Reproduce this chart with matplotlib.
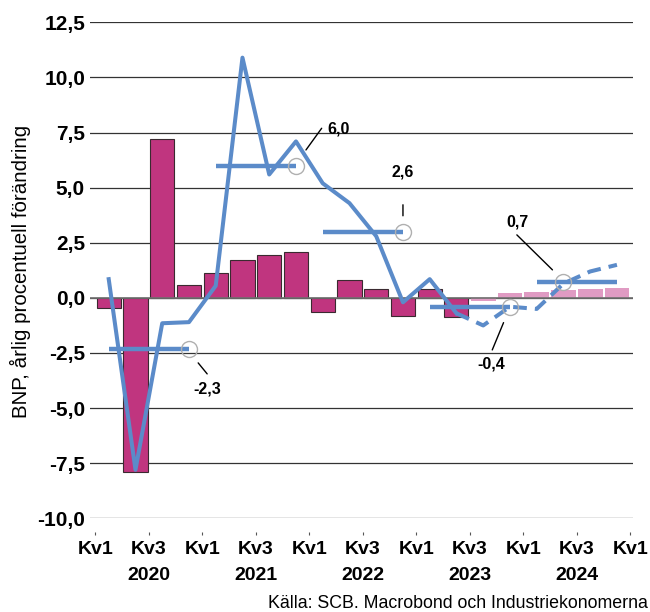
import numpy as np
import matplotlib
matplotlib.use('Agg')
import matplotlib.pyplot as plt
import matplotlib.transforms as mtransforms

plt.rcParams['font.family'] = ['Liberation Sans', 'DejaVu Sans']

# data
#=============================
# quarterly change, bars (2020 Kv1 .. 2023 Kv2 outcome, then forecast)
bar_outcome = [-0.45, -7.9, 7.2, 0.6, 1.15, 1.7, 1.95, 2.1, -0.65, 0.8, 0.4, -0.8, 0.4, -0.85]
bar_forecast = [-0.12, 0.2, 0.25, 0.35, 0.4, 0.45]

# annual change, line
line_outcome = [0.85, -7.8, -1.15, -1.1, 0.55, 10.9, 5.6, 7.1, 5.2, 4.3, 2.8, -0.2, 0.85, -0.7]
line_forecast = [-0.7, -1.25, -0.4, -0.5, 0.65, 1.2, 1.5]

# yearly averages
years = ['2020', '2021', '2022', '2023', '2024']
year_avg = [-2.3, 6.0, 3.0, -0.4, 0.7]
year_labels = ['-2,3', '6,0', '2,6', '-0,4', '0,7']
circle_q = [3, 7, 11, 15, 17]

xtick_labels = ['Kv1', 'Kv3'] * 5 + ['Kv1']
yticks = np.arange(-10, 12.51, 2.5)

# styling
#=============================
c_bar = '#c0357f'
c_bar_fc = '#e09bc3'
c_line = '#5b8bc9'

# label offsets in pixels from the circle, y down:
# (text centre, leader start, leader end)
label_off = [
    ((18.7, 40.3), (9.2, 14.3), (18.2, 25.3)),
    ((43, -37), (10, -15.7), (25.7, -37.4)),
    ((0, -60.2), (0, -27), (0, -16)),
    ((-18.4, 56.9), (-6.4, 15.9), (-17.7, 43.2)),
    ((-45.8, -60.6), (-11, -12.6), (-46.6, -47.6)),
]
px = 0.72  # pixels -> points at 100 dpi

fig = plt.figure(figsize=(6.5, 6.12), dpi=100)
ax = fig.add_axes([90 / 650, 1 - 518.3 / 612, 543 / 650, (518.3 - 22.4) / 612])

# spines first (moving a spine resets the ticks)
for s in ['top', 'right', 'left']:
    ax.spines[s].set_visible(False)
ax.spines['bottom'].set_position(('outward', 9.9))
ax.spines['bottom'].set_visible(False)

n_out = len(bar_outcome)
x_out = np.arange(n_out) + 0.5
x_fc = np.arange(n_out, n_out + len(bar_forecast)) + 0.5

ax.bar(x_out, bar_outcome, width=0.9, color=c_bar, edgecolor='#3a2a30', linewidth=0.8, zorder=2)
ax.bar(x_fc, bar_forecast, width=0.92, color=c_bar_fc, edgecolor='none', zorder=2)
ax.axhline(0, color='#707070', lw=1.2, zorder=2.5)

# annual change line
ax.plot(x_out, line_outcome, color=c_line, lw=2.9, zorder=3)
x_lf = np.arange(n_out - 1, n_out - 1 + len(line_forecast)) + 0.5
ax.plot(x_lf, line_forecast, color=c_line, lw=2.9, dashes=(3.4, 2), zorder=3)

# yearly average segments, circles and labels
for i, (v, lab, cq) in enumerate(zip(year_avg, year_labels, circle_q)):
    xs = [4 * i + 0.5, 4 * i + 3.5]
    ax.plot(xs, [v, v], color=c_line, lw=3.2, solid_capstyle='butt', zorder=4)
    ax.plot(cq + 0.5, v, marker='o', ms=11.5, mfc='none', mec='#b0b0b0', mew=1.0, zorder=5)
    t_off, l0, l1 = label_off[i]
    ax.annotate(lab, xy=(cq + 0.5, v), xytext=(t_off[0] * px, -t_off[1] * px),
                textcoords='offset points', ha='center', va='center',
                fontsize=11.5, fontweight='bold', zorder=6)
    # leader line
    p0 = mtransforms.offset_copy(ax.transData, fig=fig, x=l0[0] * px, y=-l0[1] * px, units='points')
    p1 = mtransforms.offset_copy(ax.transData, fig=fig, x=l1[0] * px, y=-l1[1] * px, units='points')
    ax.annotate('', xy=(cq + 0.5, v), xycoords=p1, xytext=(cq + 0.5, v), textcoords=p0,
                arrowprops=dict(arrowstyle='-', color='black', lw=1.0, shrinkA=0, shrinkB=0),
                zorder=6)

# axes setup
ax.set_xlim(-0.2, 20.1)
ax.set_ylim(-10, 12.5)
ax.yaxis.grid(True, color='#333333', lw=0.9)
ax.set_axisbelow(True)
ax.set_yticks(yticks)
ax.set_yticklabels([f'{v:.1f}'.replace('.', ',') for v in yticks], fontsize=15, fontweight='bold')
ax.set_xticks(np.arange(0, 21, 2))
ax.set_xticklabels(xtick_labels, fontsize=14, fontweight='bold')
ax.tick_params(axis='y', length=0, pad=3.6)
ax.tick_params(axis='x', length=2.2, width=0.8, color='#555555', pad=4)

# year labels under Kv3
ytrans = mtransforms.blended_transform_factory(ax.transData, fig.transFigure)
for i, yr in enumerate(years):
    ax.text(4 * i + 2, 1 - 576 / 612, yr, transform=ytrans, ha='center', va='center',
            fontsize=14, fontweight='bold')

fig.text(20 / 650, 1 - 271 / 612, 'BNP, årlig procentuell förändring', rotation=90,
         ha='center', va='center', fontsize=14.8)
fig.text(648 / 650, 1 - 604 / 612, 'Källa: SCB. Macrobond och Industriekonomerna',
         ha='right', va='center', fontsize=12.8)

fig.savefig('out.png', dpi=100)
